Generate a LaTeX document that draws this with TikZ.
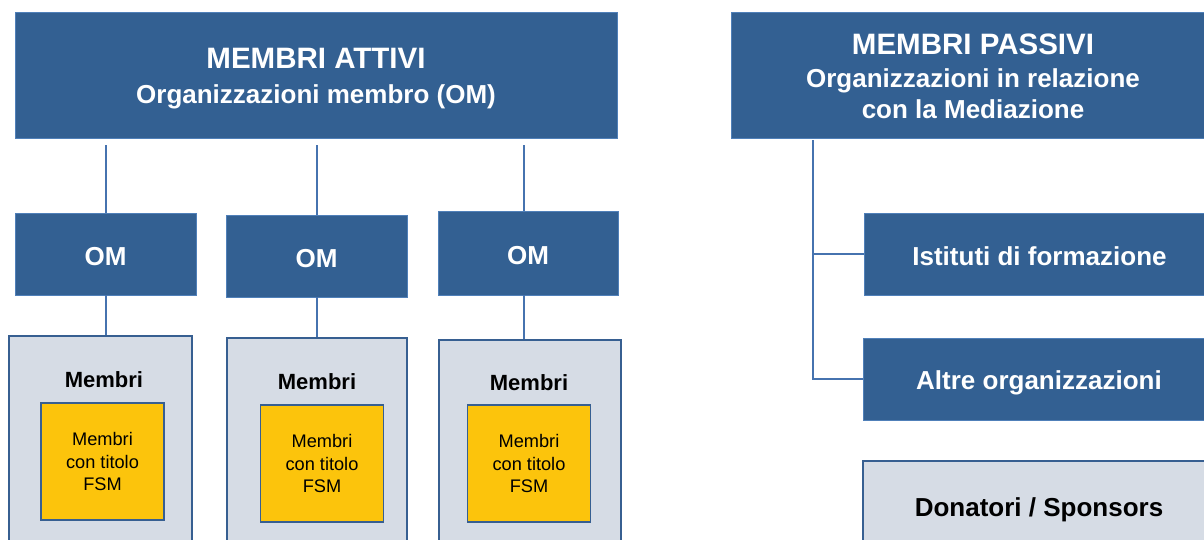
\documentclass[tikz,border=0pt]{standalone}
\usepackage{fontspec}
\setmainfont{Liberation Sans}
\usetikzlibrary{positioning,calc}
\definecolor{boxblue}{RGB}{51,96,146}
\definecolor{edgeblue}{RGB}{80,128,185}
\definecolor{linkblue}{RGB}{70,115,175}
\definecolor{panel}{RGB}{214,220,229}
\definecolor{panelline}{RGB}{55,95,145}
\definecolor{gold}{RGB}{252,196,12}

\begin{document}
\begin{tikzpicture}[x=1pt,y=-1pt,
	darkbox/.style={draw=edgeblue, line width=0.8pt, fill=boxblue, text=white, align=center, inner sep=0pt,
		text height=22pt, text depth=0pt, font=\bfseries\fontsize{26}{31}\selectfont},
	lightbox/.style={draw=panelline, line width=1.5pt, fill=panel, inner sep=0pt, align=center,
		text height=22pt, text depth=0pt, font=\bfseries\fontsize{26}{31}\selectfont},
	goldbox/.style={draw=panelline, line width=1.5pt, fill=gold, inner sep=0pt, align=center,
		minimum width=123pt, minimum height=117pt, font=\fontsize{18.2}{22.5}\selectfont},
	headtext/.style={text=white, align=center, inner sep=0pt, anchor=north,
		font=\bfseries\fontsize{26}{31}\selectfont},
	tag/.style={font=\bfseries\fontsize{22}{26}\selectfont},
	link/.style={draw=linkblue, line width=2pt}]
		
		\useasboundingbox (0,0) rectangle (1204,539);
		
		% active members
		\node [darkbox, minimum width=602pt, minimum height=126pt] (attivi) at (316,75) {};
		\node [headtext] (attivitext) at (316,47.5)
			{{\fontsize{29.5}{31}\selectfont MEMBRI ATTIVI}\\[4pt]Organizzazioni membro (OM)};
		
		\node [darkbox, minimum width=181pt, minimum height=82pt] (om1) at (105.5,254) {OM};
		\node [darkbox, minimum width=181pt, minimum height=82pt] (om2) at (316.5,256) {OM};
		\node [darkbox, minimum width=180pt, minimum height=84pt] (om3) at (528,253) {OM};
		
		\node [lightbox, minimum width=183pt, minimum height=240pt] (mem1) at (100.5,456) {};
		\node [lightbox, minimum width=180pt, minimum height=240pt] (mem2) at (317,458) {};
		\node [lightbox, minimum width=182pt, minimum height=240pt] (mem3) at (530,460) {};
		
		\node [tag] (tag1) at (104,380) {Membri};
		\node [tag] (tag2) at (317,382) {Membri};
		\node [tag] (tag3) at (529,383) {Membri};
		
		\node [goldbox] (fsm1) at (102.5,461.5) {Membri\\con titolo\\FSM};
		\node [goldbox] (fsm2) at (322,463.5) {Membri\\con titolo\\FSM};
		\node [goldbox] (fsm3) at (529,463.5) {Membri\\con titolo\\FSM};
		
		\foreach \i/\dx in {1/0.5,2/0.5,3/-4} {
			\draw [link, shorten <=7pt] ([xshift=\dx pt]om\i.north |- attivi.south) -- ([xshift=\dx pt]om\i.north);
			\draw [link] ([xshift=\dx pt]om\i.south) -- ([xshift=\dx pt]om\i.south |- mem\i.north);
		}
		
		% passive members
		\node [darkbox, minimum width=484pt, minimum height=126pt] (passivi) at (973,75) {};
		\node [headtext] (passivitext) at (973,33.5)
			{{\fontsize{29.5}{31}\selectfont MEMBRI PASSIVI}\\[2pt]Organizzazioni in relazione\\con la Mediazione};
		
		\node [darkbox, minimum width=351pt, minimum height=82pt] (ist) at (1039.5,254) {Istituti di formazione};
		\node [darkbox, minimum width=352pt, minimum height=82pt, text height=20pt] (alt) at (1039,379) {Altre organizzazioni};
		\node [lightbox, minimum width=352pt, minimum height=92pt, text height=19pt] (don) at (1039,507) {Donatori / Sponsors};
		
		\coordinate (trunk) at (813,140);
		\draw [link] (trunk) |- (alt.west);
		\draw [link] (trunk |- ist.west) -- (ist.west);
\end{tikzpicture}
\end{document}
